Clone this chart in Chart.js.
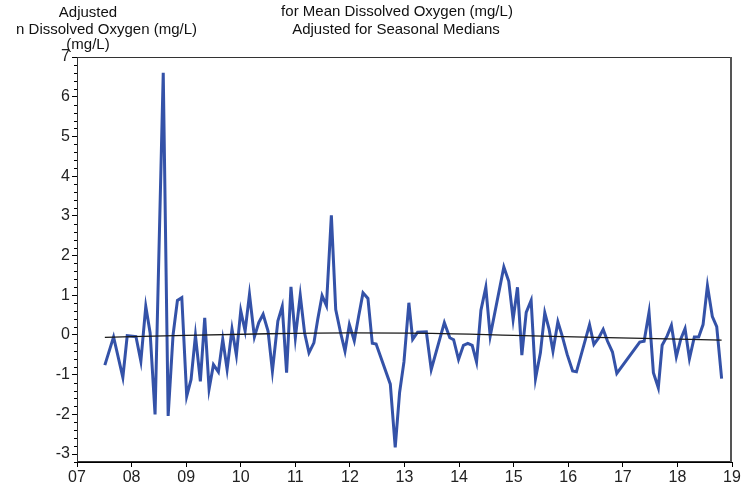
<!DOCTYPE html>
<html>
<head>
<meta charset="utf-8">
<script src="https://cdn.jsdelivr.net/npm/chart.js@4.4.1/dist/chart.umd.min.js"></script>
<style>
  html, body { margin: 0; padding: 0; background: #fff; }
</style>
</head>
<body>
<canvas id="chart" width="756" height="487"></canvas>
<script>
// sample dates (decimal years) and seasonally adjusted DO residuals
const years = [
  2007.51, 2007.67, 2007.84, 2007.92, 2008.08, 2008.17, 2008.26, 2008.34, 2008.43, 2008.58,
  2008.67, 2008.76, 2008.84, 2008.92, 2009.01, 2009.09, 2009.17, 2009.26, 2009.34, 2009.42,
  2009.50, 2009.59, 2009.67, 2009.75, 2009.84, 2009.92, 2010.00, 2010.08, 2010.16, 2010.25,
  2010.33, 2010.41, 2010.50, 2010.58, 2010.68, 2010.76, 2010.84, 2010.92, 2011.00, 2011.09,
  2011.17, 2011.25, 2011.34, 2011.41, 2011.49, 2011.57, 2011.66, 2011.74, 2011.83, 2011.91,
  2011.99, 2012.08, 2012.16, 2012.24, 2012.33, 2012.41, 2012.48, 2012.74, 2012.83, 2012.91,
  2012.99, 2013.08, 2013.15, 2013.24, 2013.40, 2013.49, 2013.73, 2013.83, 2013.90, 2013.99,
  2014.08, 2014.16, 2014.24, 2014.32, 2014.40, 2014.49, 2014.57, 2014.82, 2014.91, 2014.99,
  2015.07, 2015.15, 2015.23, 2015.32, 2015.40, 2015.49, 2015.57, 2015.65, 2015.72, 2015.81,
  2015.89, 2015.98, 2016.08, 2016.15, 2016.39, 2016.47, 2016.56, 2016.64, 2016.72, 2016.81,
  2016.89, 2017.31, 2017.39, 2017.48, 2017.56, 2017.65, 2017.72, 2017.81, 2017.89, 2017.98,
  2018.06, 2018.14, 2018.22, 2018.31, 2018.39, 2018.47, 2018.55, 2018.64, 2018.72, 2018.81
];
const adjDO = [
  -0.76, -0.05, -1.07, -0.02, -0.04, -0.66, 0.72, 0.05, -2.00, 6.60,
  -2.04, 0.00, 0.87, 0.94, -1.54, -1.12, -0.01, -1.17, 0.43, -1.36,
  -0.75, -0.93, -0.11, -0.87, 0.15, -0.51, 0.61, 0.10, 1.02, -0.05,
  0.31, 0.52, 0.10, -0.91, 0.35, 0.72, -0.95, 1.21, -0.07, 1.00,
  0.05, -0.45, -0.20, 0.39, 0.99, 0.74, 3.01, 0.64, 0.05, -0.41,
  0.26, -0.15, 0.47, 1.06, 0.92, -0.21, -0.23, -1.24, -2.83, -1.45,
  -0.68, 0.81, -0.11, 0.07, 0.08, -0.87, 0.31, -0.07, -0.12, -0.62,
  -0.26, -0.21, -0.26, -0.68, 0.62, 1.20, -0.03, 1.71, 1.35, 0.39,
  1.20, -0.51, 0.57, 0.87, -1.10, -0.45, 0.56, 0.14, -0.41, 0.33,
  -0.03, -0.49, -0.91, -0.93, 0.26, -0.24, -0.07, 0.14, -0.16, -0.43,
  -0.97, -0.18, -0.16, 0.57, -0.95, -1.33, -0.26, -0.03, 0.24, -0.55,
  -0.11, 0.16, -0.60, -0.05, -0.05, 0.26, 1.24, 0.46, 0.21, -1.10
];

// smooth trend line
const trendYears = [2007.51, 2009.0, 2010.5, 2012.0, 2013.5, 2015.0, 2016.5, 2018.81];
const trendDO    = [-0.06, -0.01, 0.03, 0.05, 0.04, -0.01, -0.06, -0.13];

const xTicks = [2007, 2008, 2009, 2010, 2011, 2012, 2013, 2014, 2015, 2016, 2017, 2018, 2019];
const yTicks = [-3, -2, -1, 0, 1, 2, 3, 4, 5, 6, 7];

const leftTitle   = ["Adjusted", "Mean Dissolved Oxygen (mg/L)", "(mg/L)"];
const centerTitle = ["for Mean Dissolved Oxygen (mg/L)", "Adjusted for Seasonal Medians"];

const tickFont = { family: "'Liberation Sans Narrow', 'Arial Narrow', 'Liberation Sans', Arial, sans-serif", size: 16 };
const titleFont = "15px 'Liberation Sans', Arial, sans-serif";

const decor = {
  id: "decor",
  afterDraw(chart) {
    const { ctx, chartArea: a, scales } = chart;
    ctx.save();
    // frame
    ctx.strokeStyle = "#333";
    ctx.lineWidth = 1;
    ctx.strokeRect(a.left + 0.5, a.top + 0.5, a.right - a.left - 1, a.bottom - a.top - 1);
    ctx.strokeStyle = "#555";
    ctx.lineWidth = 2;
    ctx.beginPath();
    ctx.moveTo(a.right - 1, a.top);
    ctx.lineTo(a.right - 1, a.bottom);
    ctx.stroke();
    // minor ticks on y
    ctx.strokeStyle = "#000";
    ctx.lineWidth = 1;
    const y = scales.y;
    for (let v = Math.ceil(y.min * 5); v <= y.max * 5; v++) {
      if (v % 5 === 0) continue;
      const py = Math.round(y.getPixelForValue(v / 5)) + 0.5;
      ctx.beginPath();
      ctx.moveTo(a.left - 3, py);
      ctx.lineTo(a.left, py);
      ctx.stroke();
    }
    // titles
    ctx.fillStyle = "#111";
    ctx.font = titleFont;
    ctx.textBaseline = "middle";
    ctx.textAlign = "center";
    ctx.fillText(leftTitle[0], 88, 13);
    ctx.fillText(leftTitle[2], 88, 45);
    ctx.fillText(centerTitle[0], 397, 12);
    ctx.fillText(centerTitle[1], 396, 30);
    // left title line is cut off at its start in the original
    ctx.beginPath();
    ctx.rect(17, 20, 200, 20);
    ctx.clip();
    ctx.textAlign = "right";
    ctx.fillText(leftTitle[1], 197, 30);
    ctx.restore();
  }
};

new Chart(document.getElementById("chart"), {
  type: "line",
  plugins: [decor],
  data: {
    datasets: [
      {
        data: years.map((x, i) => ({ x, y: adjDO[i] })),
        borderColor: "#3452a8",
        borderWidth: 3,
        pointRadius: 0,
        tension: 0,
        order: 2
      },
      {
        data: trendYears.map((x, i) => ({ x, y: trendDO[i] })),
        borderColor: "#1a1a1a",
        borderWidth: 1.3,
        pointRadius: 0,
        tension: 0.4,
        cubicInterpolationMode: "monotone",
        order: 1
      }
    ]
  },
  options: {
    responsive: false,
    animation: false,
    layout: { padding: { top: 57, right: 24, left: 0, bottom: 0 } },
    plugins: { legend: { display: false }, tooltip: { enabled: false } },
    scales: {
      x: {
        type: "linear",
        min: 2007,
        max: 2019,
        afterBuildTicks: s => { s.ticks = xTicks.map(v => ({ value: v })); },
        afterFit: s => { s.height = 25; },
        ticks: {
          color: "#222",
          font: tickFont,
          padding: 1,
          maxRotation: 0,
          callback: v => String(v % 100).padStart(2, "0")
        },
        grid: { drawOnChartArea: false, tickLength: 5, color: "#000" },
        border: { color: "#000", width: 1 }
      },
      y: {
        min: -3.2,
        max: 7,
        afterBuildTicks: s => { s.ticks = yTicks.map(v => ({ value: v })); },
        afterFit: s => { s.width = 77; },
        ticks: { color: "#222", font: tickFont, padding: 2 },
        grid: { drawOnChartArea: false, tickLength: 5, color: "#000" },
        border: { color: "#000", width: 1 }
      }
    }
  }
});
</script>
</body>
</html>
